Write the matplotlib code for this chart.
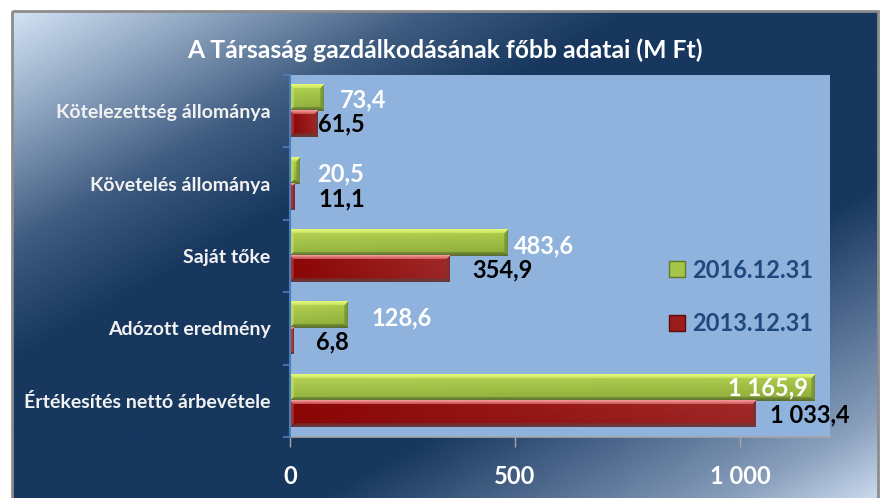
import numpy as np
import matplotlib
matplotlib.use("Agg")
import matplotlib.pyplot as plt
from matplotlib.colors import LinearSegmentedColormap, to_rgb
from matplotlib.patches import Patch, Rectangle
from matplotlib import font_manager

# ---------------- data ----------------
categories = ["Kötelezettség állománya", "Követelés állománya", "Saját tőke",
              "Adózott eredmény", "Értékesítés nettó árbevétele"]
values_2016 = [73.4, 20.5, 483.6, 128.6, 1165.9]
values_2013 = [61.5, 11.1, 354.9, 6.8, 1033.4]
labels_2016 = ["73,4", "20,5", "483,6", "128,6", "1 165,9"]
labels_2013 = ["61,5", "11,1", "354,9", "6,8", "1 033,4"]
series_names = ["2016.12.31", "2013.12.31"]
title = "A Társaság gazdálkodásának főbb adatai (M Ft)"
xticks = [0, 500, 1000]
xticklabels = ["0", "500", "1 000"]

# ---------------- fonts ----------------
avail = {f.name for f in font_manager.fontManager.ttflist}
fam = [f for f in ["Lato", "Open Sans", "DejaVu Sans"] if f in avail]
plt.rcParams["font.family"] = fam
plt.rcParams["font.weight"] = "bold"

W, H = 880, 498
fig = plt.figure(figsize=(W / 100, H / 100), dpi=100)
fig.patch.set_facecolor("white")

# ---------------- background ----------------
bg = fig.add_axes([0, 0, 1, 1], zorder=-10)
bg.set_xlim(0, W)
bg.set_ylim(H, 0)
bg.axis("off")
bx0, by0, bx1, by1 = 12, 11, 878, 498
xx, yy = np.meshgrid(np.linspace(0, 1, 300), np.linspace(0, 1, 200))
s = (xx + yy) / 2
cmap_bg = LinearSegmentedColormap.from_list(
    "bg", [(0, "#d2e2f4"), (0.12, "#8aa1bd"), (0.24, "#3e5b80"),
           (0.36, "#17375e"), (0.68, "#17375e"), (0.8, "#4f6a8e"),
           (0.92, "#8aa0bd"), (1.0, "#c8d8ec")])
bg.imshow(s, cmap=cmap_bg, extent=[bx0, bx1, by1, by0], aspect="auto",
          interpolation="bilinear")
bg.add_patch(Rectangle((bx0, by0), bx1 - bx0, by1 - by0 + 5, fill=False,
                       edgecolor="#8c8c8c", linewidth=2))

# ---------------- main axes ----------------
ax = fig.add_axes([290 / W, 1 - 437 / H, 540 / W, 362 / H])
ax.set_facecolor("#8fb3dd")
n = len(categories)
y = np.arange(n)
h = 0.36
bars16 = ax.barh(y - h / 2, values_2016, height=h, color="#9fc044",
                 edgecolor="none", zorder=2)
bars13 = ax.barh(y + h / 2, values_2013, height=h, color="#a02424",
                 edgecolor="none", zorder=2)
ax.set_xlim(0, 1200)
ax.set_ylim(n - 0.5, -0.5)

px_per_x = 540 / 1200
px_per_y = 362 / n


def bevel_image(wpx, hpx, tl, tr, bl, br, top, left, bottom, right, b=4):
    wpx = max(int(round(wpx)), 1)
    hpx = max(int(round(hpx)), 1)
    img = np.zeros((hpx, wpx, 3))
    TL, TR, BL, BR = [np.array(to_rgb(c)) for c in (tl, tr, bl, br)]
    for i in range(hpx):
        v = i / max(hpx - 1, 1)
        for j in range(wpx):
            u = j / max(wpx - 1, 1)
            img[i, j] = (TL * (1 - u) + TR * u) * (1 - v) + (BL * (1 - u) + BR * u) * v
    cols = {k: np.array(to_rgb(c)) for k, c in
            dict(t=top, l=left, b=bottom, r=right).items()}
    for i in range(hpx):
        for j in range(wpx):
            d = {"t": i, "b": hpx - 1 - i, "l": j, "r": wpx - 1 - j}
            k = min(d, key=d.get)
            if d[k] < b:
                f = 0.4 + 0.6 * (1 - d[k] / b)
                img[i, j] = cols[k] * f + img[i, j] * (1 - f)
    return img


styles = {
    0: dict(tl="#b9d758", tr="#b2d04e", bl="#8fae3c", br="#8aa838",
            top="#e4f875", left="#c4df66", bottom="#5b7030", right="#748f34"),
    1: dict(tl="#8e0606", tr="#a42a2a", bl="#860606", br="#9a2424",
            top="#f49494", left="#b83c3c", bottom="#6a3a3a", right="#7e3030"),
}
for si, cont in enumerate([bars16, bars13]):
    for p in cont.patches:
        x0, y0 = p.get_x(), p.get_y()
        w, hh = p.get_width(), p.get_height()
        img = bevel_image(w * px_per_x, hh * px_per_y, **styles[si])
        ax.imshow(img, extent=[x0, x0 + w, y0 + hh, y0], aspect="auto",
                  zorder=3, interpolation="nearest")
ax.set_xlim(0, 1200)
ax.set_ylim(n - 0.5, -0.5)

# ---------------- data labels ----------------
off16 = [(17, -2, "left"), (18, -3, "left"), (6, -3, "left"), (24, -3, "left"), (-7, 0, "right")]
off13 = [(0, 0, "left"), (23, -2, "left"), (23, -1, "left"), (23, 0, "left"), (15, -1, "left")]
for i in range(n):
    dx, dy, ha = off16[i]
    ax.annotate(labels_2016[i], xy=(values_2016[i], y[i] - h / 2),
                xytext=(dx, dy), textcoords="offset pixels", ha=ha, va="center",
                color="white", fontsize=17, fontweight="bold", zorder=5)
    dx, dy, ha = off13[i]
    ax.annotate(labels_2013[i], xy=(values_2013[i], y[i] + h / 2),
                xytext=(dx, dy), textcoords="offset pixels", ha=ha, va="center",
                color="black", fontsize=17, fontweight="bold", zorder=5)

# ---------------- axes styling ----------------
for sp in ["top", "right"]:
    ax.spines[sp].set_visible(False)
ax.spines["left"].set_color("#4a7ebb")
ax.spines["left"].set_linewidth(1.5)
ax.spines["bottom"].set_color("#a6a6a6")
ax.spines["bottom"].set_linewidth(1.2)
ax.spines["left"].set_zorder(6)

ax.set_yticks(y)
ax.set_yticklabels(categories, fontsize=14, fontweight="bold", color="#f2f2f2")
ax.set_yticks(np.arange(n + 1) - 0.5, minor=True)
ax.tick_params(axis="y", which="major", length=0, pad=14)
ax.tick_params(axis="y", which="minor", length=5, width=1.2, color="#4a7ebb",
               direction="out")
ax.set_xticks(xticks)
ax.set_xticklabels(xticklabels, fontsize=17, fontweight="bold", color="white")
ax.tick_params(axis="x", length=7, width=1, color="#a6a6a6", pad=13)

# ---------------- legend ----------------
handles = [Patch(facecolor="#a4c548", edgecolor="#5e7a22"),
           Patch(facecolor="#9a1c1c", edgecolor="#5e0c0c")]
leg = ax.legend(handles, series_names, loc="center left",
                bbox_to_anchor=(379 / 540, 1 - (297 - 75) / 362), frameon=False,
                borderaxespad=0, borderpad=0,
                handlelength=0.68, handleheight=0.68, handletextpad=0.3,
                labelspacing=1.3, prop=dict(size=17, weight="bold"))
for t in leg.get_texts():
    t.set_color("#1f497d")

# ---------------- title ----------------
fig.text(445 / W, 1 - 50 / H, title, ha="center", va="center", color="white",
         fontsize=17.8, fontweight="bold")

fig.savefig("out.png", dpi=100)
